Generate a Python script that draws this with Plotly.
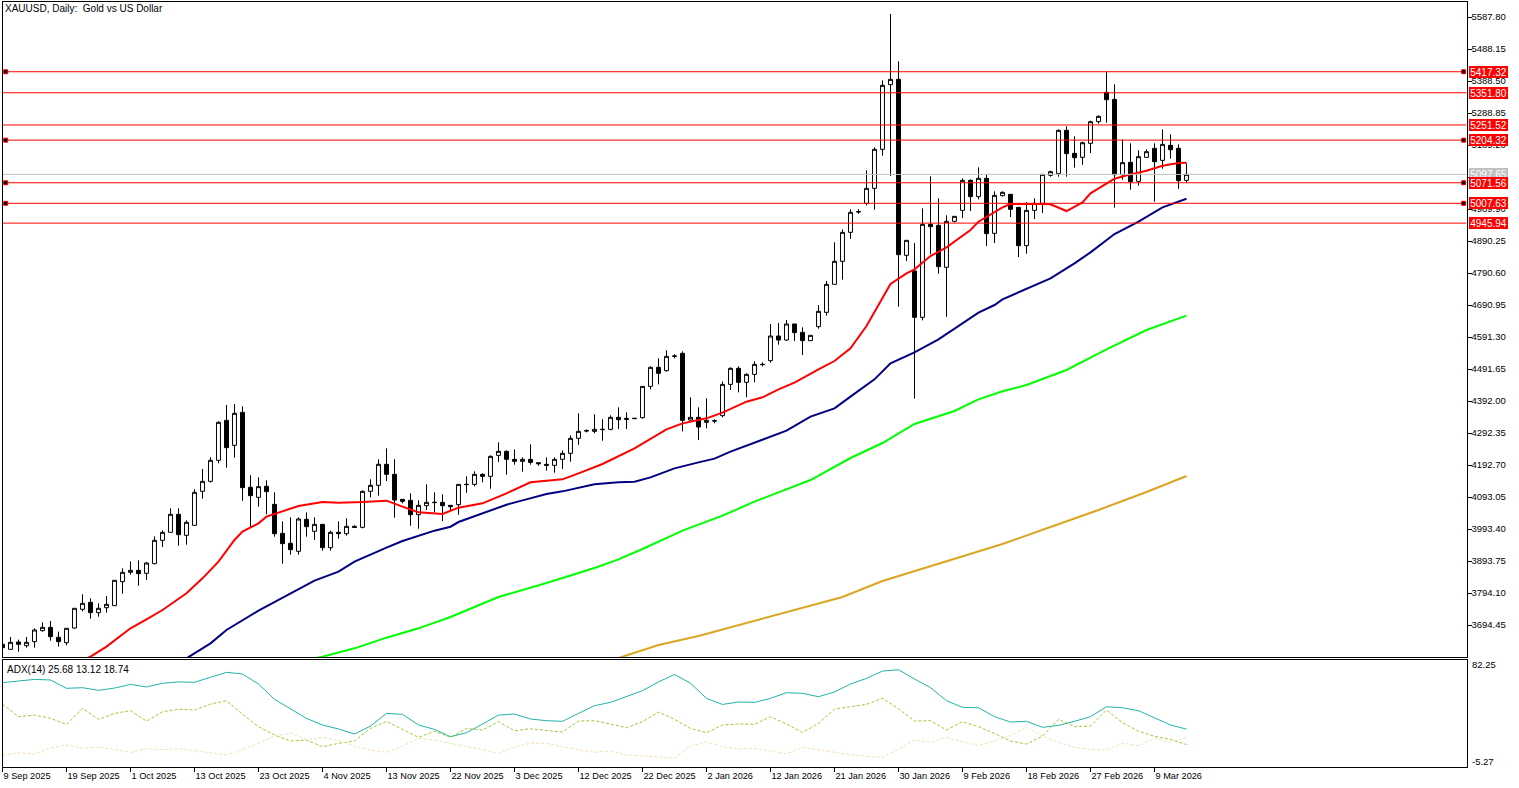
import plotly.graph_objects as go

W, H = 1519, 788

title_text = "XAUUSD, Daily:  Gold vs US Dollar"
adx_text = "ADX(14) 25.68 13.12 18.74"

open_ = [3634.3,3618.7,3641.5,3630.1,3642.6,3676.8,3687.2,3656.1,3639.4,3685.1,3743.3,3765.1,3732.9,3748.4,3754.7,3829.4,3858.5,3864.7,3855.4,3885.5,
3958.1,3983.0,4039.1,3973.7,4004.8,4110.7,4141.8,4207.2,4331.8,4253.9,4356.7,4123.2,4092.0,4126.3,4070.2,3979.9,3948.8,3923.9,4023.5,3986.1,
4007.9,3935.3,3983.0,3978.9,4001.7,3998.6,4110.7,4129.4,4194.8,4163.6,4085.7,4082.6,4038.0,4066.0,4075.4,4076.4,4067.1,4069.1,4131.4,4132.4,
4163.6,4157.4,4222.7,4235.2,4210.3,4204.1,4210.3,4199.9,4194.7,4191.6,4210.3,4229.0,4275.7,4298.5,4297.5,4302.7,4303.7,4341.1,4338.0,4336.9,
4340.0,4437.6,4496.8,4486.4,4531.0,4540.4,4332.8,4341.1,4325.5,4330.7,4346.3,4443.8,4493.7,4450.1,4475.0,4505.1,4517.6,4594.4,4581.9,4631.8,
4605.8,4579.9,4623.5,4668.1,4755.3,4826.9,4917.2,4980.5,5007.5,5054.2,5175.7,5377.0,5393.6,4845.6,4796.8,4652.5,4942.1,4939.0,4808.2,4951.4,
4985.7,5079.1,5028.3,5085.4,4914.1,5031.4,5035.6,4995.1,4875.7,4985.7,5007.5,5094.7,5099.9,5234.8,5163.2,5150.8,5194.4,5261.8,5353.2,5331.4,
5096.8,5135.2,5076.0,5150.8,5178.8,5141.4,5188.1,5178.8,5079.1]
high = [3634.3,3657.1,3648.8,3657.1,3684.1,3702.8,3706.9,3673.7,3684.1,3746.4,3790.0,3777.5,3761.9,3784.8,3833.6,3870.9,3892.7,3895.8,3890.7,3970.6,
3989.3,4057.8,4057.8,4020.4,4117.0,4180.3,4216.6,4328.7,4379.5,4382.7,4375.4,4160.5,4154.3,4145.0,4107.6,4017.3,4029.7,4029.7,4045.3,4029.7,
4007.9,3988.2,4017.3,4026.6,4004.8,4113.8,4148.1,4210.4,4244.6,4210.4,4085.7,4104.4,4082.6,4132.4,4107.5,4101.3,4067.1,4132.4,4157.4,4172.9,
4166.7,4222.7,4263.2,4238.3,4241.4,4216.5,4257.0,4200.9,4216.5,4216.5,4238.3,4285.0,4353.5,4303.7,4350.4,4334.9,4347.3,4372.2,4356.6,4338.0,
4437.6,4499.9,4524.8,4549.7,4537.3,4546.6,4403.4,4372.2,4400.3,4334.9,4453.2,4496.8,4499.9,4478.1,4515.5,4512.4,4631.8,4634.9,4644.2,4631.8,
4621.4,4596.5,4690.9,4765.7,4886.1,4926.6,4988.8,4988.8,5110.3,5181.9,5390.5,5597.1,5449.7,4892.3,4884.0,4991.9,5091.6,5023.1,4970.2,4967.0,
5085.4,5082.3,5119.6,5097.8,5044.9,5044.9,5035.6,4995.1,5011.7,5023.1,5097.8,5109.2,5237.9,5247.3,5216.2,5199.5,5264.9,5281.5,5418.6,5378.1,
5206.8,5194.4,5172.6,5175.7,5194.4,5237.9,5222.4,5191.2,5132.1]
low = [3623.9,3618.7,3611.4,3623.9,3623.9,3673.7,3645.7,3627.0,3631.1,3683.0,3737.0,3714.2,3720.4,3732.9,3754.7,3792.0,3851.2,3817.0,3834.6,3883.4,
3937.4,3983.0,3941.5,3944.6,4003.8,4087.9,4137.7,4197.9,4184.4,4215.5,4081.6,3997.6,4063.0,4039.1,3969.5,3885.5,3913.5,3913.5,3969.5,3959.2,
3926.0,3926.0,3963.3,3972.7,3997.6,3995.5,4092.0,4097.2,4142.9,4028.7,4073.3,4003.7,3994.4,4052.5,4045.3,4018.3,4052.5,4038.0,4106.5,4126.2,
4138.7,4118.9,4202.0,4162.6,4193.7,4171.9,4193.7,4190.6,4175.0,4168.8,4180.2,4203.0,4256.0,4294.4,4291.3,4268.4,4300.6,4304.7,4304.7,4335.9,
4336.9,4428.3,4443.8,4483.3,4524.8,4297.5,4331.7,4270.5,4306.8,4322.4,4341.1,4426.2,4418.9,4403.4,4450.1,4499.9,4511.4,4567.4,4578.8,4578.8,
4535.2,4579.9,4617.2,4657.7,4755.3,4769.8,4896.4,4975.3,5001.3,4987.8,5155.9,5092.6,4685.7,4827.9,4399.3,4643.2,4848.7,4788.5,4654.6,4948.3,
4961.8,4983.6,5020.0,4874.7,4884.0,5028.3,4965.0,4840.4,4850.8,4958.7,4977.4,5090.6,5090.6,5090.6,5118.6,5127.9,5164.3,5255.6,5258.7,4994.0,
5081.2,5050.1,5062.5,5149.7,5012.7,5115.5,5146.6,5053.2,5071.9]
close = [3623.9,3640.5,3634.3,3640.5,3678.9,3687.2,3658.1,3642.6,3684.1,3746.4,3761.9,3732.9,3746.4,3758.8,3833.6,3858.5,3864.7,3854.3,3887.5,3958.1,
3983.0,4039.1,3975.8,4014.2,4107.6,4141.8,4207.2,4325.6,4246.7,4353.6,4122.1,4097.2,4125.2,4109.7,3978.9,3947.7,3929.1,4024.6,4000.7,4007.9,
3935.3,3983.0,3978.9,4001.7,3998.6,4110.7,4129.4,4194.8,4163.6,4083.7,4079.5,4038.0,4067.1,4076.4,4076.4,4066.0,4062.9,4132.4,4132.4,4163.6,
4157.4,4219.6,4235.2,4210.3,4204.1,4210.3,4200.9,4196.8,4191.6,4210.3,4229.0,4275.7,4297.5,4299.6,4303.7,4303.7,4341.1,4333.8,4334.9,4338.0,
4437.6,4496.8,4478.1,4531.0,4532.1,4331.7,4341.1,4311.0,4331.7,4329.7,4443.8,4493.7,4450.1,4475.0,4506.1,4506.1,4594.4,4581.9,4631.8,4604.8,
4579.9,4596.5,4671.2,4755.3,4826.9,4917.2,4979.5,4981.6,5054.2,5175.7,5375.0,5393.6,4847.7,4892.3,4652.5,4942.1,4934.9,4810.3,4951.4,4967.0,
5079.1,5028.3,5085.4,4913.1,5032.4,5041.8,4988.8,4875.7,4985.7,5007.5,5097.8,5106.1,5234.8,5162.2,5149.7,5196.4,5261.8,5278.4,5330.3,5096.8,
5134.2,5075.0,5152.8,5168.4,5137.3,5191.2,5174.6,5078.1,5097.8]
bars = list(range(len(open_)))

red_bars = [10,11,13,16,18,20,23,25,27,29,30,32,33,35,37,40,42,45,47,48,50,52,55,57,60,63,66,68,70,72,75,79,83,85,88,90,93,95,97,99,101,
            102,104,106,108,110,111,113,114,116,118,121,122,125,126,130,131,133,135,136,139,141,143,145,147,148]
red_ma = [3585,3595.9,3627.0,3684.1,3712.1,3741.2,3793.1,3839.8,3891.7,3959.2,3985.1,4011.1,4031.8,4049.5,4065.0,4077.5,4075.4,4077.5,4081.6,4081.6,4062.9,4045.3,4040.1,4059.8,4073.3,4104.4,4138.7,4142.8,4148.0,4166.7,4195.8,4244.6,4303.7,4322.4,4338.0,4355.6,4389.9,4403.4,4428.3,4449.0,4478.1,
          4490.6,4516.5,4556.0,4625.5,4711.7,4756.3,4789.5,4802.0,4843.5,4870.5,4924.5,4950.4,4995.1,5005.4,5005.4,5004.4,4983.6,5010.6,5038.7,5084.3,5097.8,5109.2,5124.8,5133.1,5134.2]
blue_bars = [22,23,26,28,32,37,39,42,44,48,50,54,56,57,61,63,65,68,70,74,77,79,81,84,87,89,91,95,98,101,104,106,109,111,114,117,120,122,124,125,131,134,136,139,142,145,148]
blue_ma = [3580.3,3590.7,3637.4,3678.9,3739.1,3805.5,3832.5,3860.5,3891.7,3935.3,3956.1,3988.2,4000.6,4015.1,4050.4,4069.1,4082.6,4102.3,4110.6,4132.4,4138.7,4140.7,4154.2,4182.3,4200.9,4212.4,4234.2,4272.6,4299.6,4343.2,
           4369.1,4405.5,4459.4,4509.3,4543.5,4584.0,4633.8,4667.1,4690.9,4708.6,4773.9,4820.7,4854.9,4912.0,4950.4,4995.1,5022.0]
green_bars = [39,40,44,48,52,56,62,68,74,77,80,85,90,94,97,101,106,110,114,119,122,125,128,133,138,143,148]
green_ma = [3590.7,3595.9,3621.8,3655.0,3684.1,3719.4,3781.6,3825.3,3872.0,3898.9,3931.1,3988.2,4034.9,4078.5,4107.5,4145.9,4214.5,4261.2,4320.4,4360.8,4397.2,4422.1,4441.8,4488.5,4552.9,4613.1,4657.7]
gold_bars = [77,82,87,92,97,105,110,112,118,125,131,137,143,148]
gold_ma = [3591.7,3632.1,3660.2,3694.4,3728.7,3781.6,3831.5,3847.0,3893.7,3946.7,3999.6,4052.6,4108.6,4158.4]

level_prices = [5417.32,5351.80,5251.52,5204.32,5071.56,5007.63,4945.94]
marked_levels = [5417.32,5204.32,5071.56,5007.63]
bid_price = 5097.65

price_ticks = [5587.80,5488.15,5388.50,5288.85,5189.20,5089.55,4989.90,4890.25,4790.60,4690.95,4591.30,4491.65,4392.00,4292.35,4192.70,4093.05,3993.40,3893.75,3794.10,3694.45]
date_labels = ["9 Sep 2025","19 Sep 2025","1 Oct 2025","13 Oct 2025","23 Oct 2025","4 Nov 2025","13 Nov 2025","22 Nov 2025","3 Dec 2025","12 Dec 2025","22 Dec 2025","2 Jan 2026","12 Jan 2026","21 Jan 2026","30 Jan 2026","9 Feb 2026","18 Feb 2026","27 Feb 2026","9 Mar 2026"]
date_bars = list(range(0, 152, 8))

adx_bars = list(range(0, 150, 2))
adx = [63.7,65.1,66.4,65.9,59.1,59.6,57.4,59.3,62.3,60.2,63.2,64.3,64.0,68.1,72.2,70.8,62.6,50.1,42.1,34.5,29.1,25.8,21.7,28.2,38.6,
       37.8,29.1,25.5,19.5,22.8,29.9,37.2,38.1,34.0,32.6,32.1,38.6,44.9,47.6,52.2,57.2,64.3,70.5,63.2,50.9,45.9,47.9,47.6,50.9,55.5,
       55.0,52.2,56.1,62.6,67.2,73.2,74.3,66.7,59.6,49.0,43.5,43.2,35.9,31.5,32.1,27.2,28.8,32.1,35.9,44.0,43.2,40.8,35.0,29.1,25.68]
plus_di = [46.2,35.9,37.2,34.5,29.6,42.7,33.7,38.6,40.8,32.3,39.9,41.9,41.3,46.2,49.0,37.8,27.7,20.9,16.0,16.8,11.3,14.1,16.0,26.3,32.0,
           25.5,19.0,24.1,19.0,26.3,25.0,31.8,24.4,26.0,24.7,23.3,32.3,32.6,29.9,26.9,31.8,39.7,33.7,26.3,22.8,29.1,29.9,29.6,35.9,29.9,
           23.0,30.4,42.1,44.0,46.0,50.9,42.4,32.3,32.6,25.0,31.8,27.7,22.2,16.0,13.5,20.0,33.7,27.7,28.2,41.3,31.0,24.1,19.8,17.3,13.12]
minus_di = [4.5,6.4,5.3,10.5,12.7,10.0,11.1,8.6,6.7,9.7,8.9,9.7,8.3,6.4,4.5,9.2,14.1,20.0,22.2,17.3,19.0,16.5,11.9,8.6,6.7,
            11.9,18.2,16.8,14.3,11.9,8.9,5.9,11.1,14.3,14.1,11.3,9.2,6.7,7.8,4.5,3.9,2.9,1.8,11.9,15.2,11.3,9.4,10.0,7.8,5.6,
            10.8,8.6,6.4,4.8,3.4,2.6,9.2,16.8,14.9,19.0,15.2,12.2,16.0,20.6,27.2,20.0,14.9,10.8,9.2,8.6,14.1,12.2,17.9,14.9,18.74]
adx_top, adx_bottom = 82.25, -5.27

FONT = "Liberation Sans"
FS = 10
FS_AXIS = 9.5
FS_DATE = 9.2


def px(p):
    return p / W


def py(p):
    return 1 - p / H


fig = go.Figure()
fig.add_trace(go.Candlestick(
    x=bars, open=open_, high=high, low=low, close=close,
    increasing=dict(line=dict(color="black", width=1), fillcolor="white"),
    decreasing=dict(line=dict(color="black", width=1), fillcolor="black"),
    whiskerwidth=0, xaxis="x", yaxis="y", hoverinfo="skip", showlegend=False))

for xs, ys, col in [(red_bars, red_ma, "#FF0000"), (blue_bars, blue_ma, "#000080"),
                    (green_bars, green_ma, "#00FF00"), (gold_bars, gold_ma, "#DAA520")]:
    fig.add_trace(go.Scatter(x=xs, y=ys, mode="lines", line=dict(color=col, width=2),
                             xaxis="x", yaxis="y", showlegend=False, hoverinfo="skip", cliponaxis=True))

x_range = [0, 183]
fig.add_trace(go.Scatter(x=x_range, y=[bid_price, bid_price], mode="lines",
                         line=dict(color="#C0C0C0", width=1), showlegend=False, hoverinfo="skip"))
for lv in level_prices:
    fig.add_trace(go.Scatter(x=x_range, y=[lv, lv], mode="lines",
                             line=dict(color="#FF0000", width=1), showlegend=False, hoverinfo="skip"))
for lv in marked_levels:
    fig.add_trace(go.Scatter(x=[0.4, 182.65], y=[lv, lv], mode="markers",
                             marker=dict(symbol="square", size=4, color="black", line=dict(color="#FF0000", width=1)),
                             showlegend=False, hoverinfo="skip"))

for ys, col, dash in [(adx, "#20B2AA", "solid"), (plus_di, "#9ACD32", "3px,2px"), (minus_di, "#F5DEB3", "3px,2px")]:
    fig.add_trace(go.Scatter(x=adx_bars, y=ys, mode="lines", line=dict(color=col, width=1, dash=dash),
                             xaxis="x2", yaxis="y2", showlegend=False, hoverinfo="skip"))

ann = [dict(text=title_text, xref="paper", yref="paper", x=px(3), y=py(9), xanchor="left", yanchor="middle",
            showarrow=False, font=dict(family=FONT, size=FS, color="black")),
       dict(text=adx_text, xref="paper", yref="paper", x=px(5), y=py(669), xanchor="left", yanchor="middle",
            showarrow=False, font=dict(family=FONT, size=FS, color="black"))]
for val, shift in [(adx_top, -4), (adx_bottom, 6)]:
    ann.append(dict(text=f"{val:.2f}", xref="paper", yref="y2", x=px(1470), y=val, yshift=shift, xanchor="left",
                    yanchor="middle", showarrow=False, font=dict(family=FONT, size=FS_AXIS, color="black")))
for lv, bg in [(bid_price, "#C0C0C0")] + [(l, "#FF0000") for l in level_prices]:
    ann.append(dict(text=f"{lv:.2f}", xref="paper", yref="y", x=px(1469), y=lv, xanchor="left", yanchor="middle",
                    showarrow=False, bgcolor=bg, borderpad=0, borderwidth=0, width=39, height=12, align="center",
                    font=dict(family=FONT, size=FS, color="white")))

axis_common = dict(showline=True, linecolor="black", linewidth=1, mirror=True, showgrid=False, zeroline=False,
                   automargin=False, ticklen=4, tickcolor="black", tickwidth=1)
fig.update_layout(
    template="none",
    width=W, height=H, margin=dict(l=0, r=0, t=0, b=0), paper_bgcolor="white", plot_bgcolor="white",
    showlegend=False, annotations=ann,
    xaxis=dict(domain=[px(2.5), px(1466.5)], range=x_range, anchor="y", rangeslider=dict(visible=False), automargin=False,
               showticklabels=False, ticks="", showline=True, linecolor="black", mirror=True, showgrid=False, zeroline=False),
    yaxis=dict(domain=[py(657), py(2)], range=[3594.8, 5634.5], side="right", anchor="x", ticks="outside",
               ticklabelstandoff=-2, tickfont=dict(family=FONT, size=FS_AXIS, color="black"),
               tickvals=price_ticks, ticktext=[f"{t:.2f}" for t in price_ticks], **axis_common),
    xaxis2=dict(domain=[px(2.5), px(1466.5)], range=x_range, anchor="y2", tickvals=date_bars, ticktext=date_labels,
                ticks="outside", tickfont=dict(family=FONT, size=FS_DATE, color="black"),
                tickangle=0, ticklabelposition="outside right", **axis_common),
    yaxis2=dict(domain=[py(767), py(660)], range=[adx_bottom, adx_top], side="right", anchor="x2",
                ticks="", showticklabels=False, **axis_common),
)
fig.write_html("out.html", config=dict(displayModeBar=False, responsive=False),
               post_script="document.body.style.margin='0';document.body.style.overflow='hidden';")
